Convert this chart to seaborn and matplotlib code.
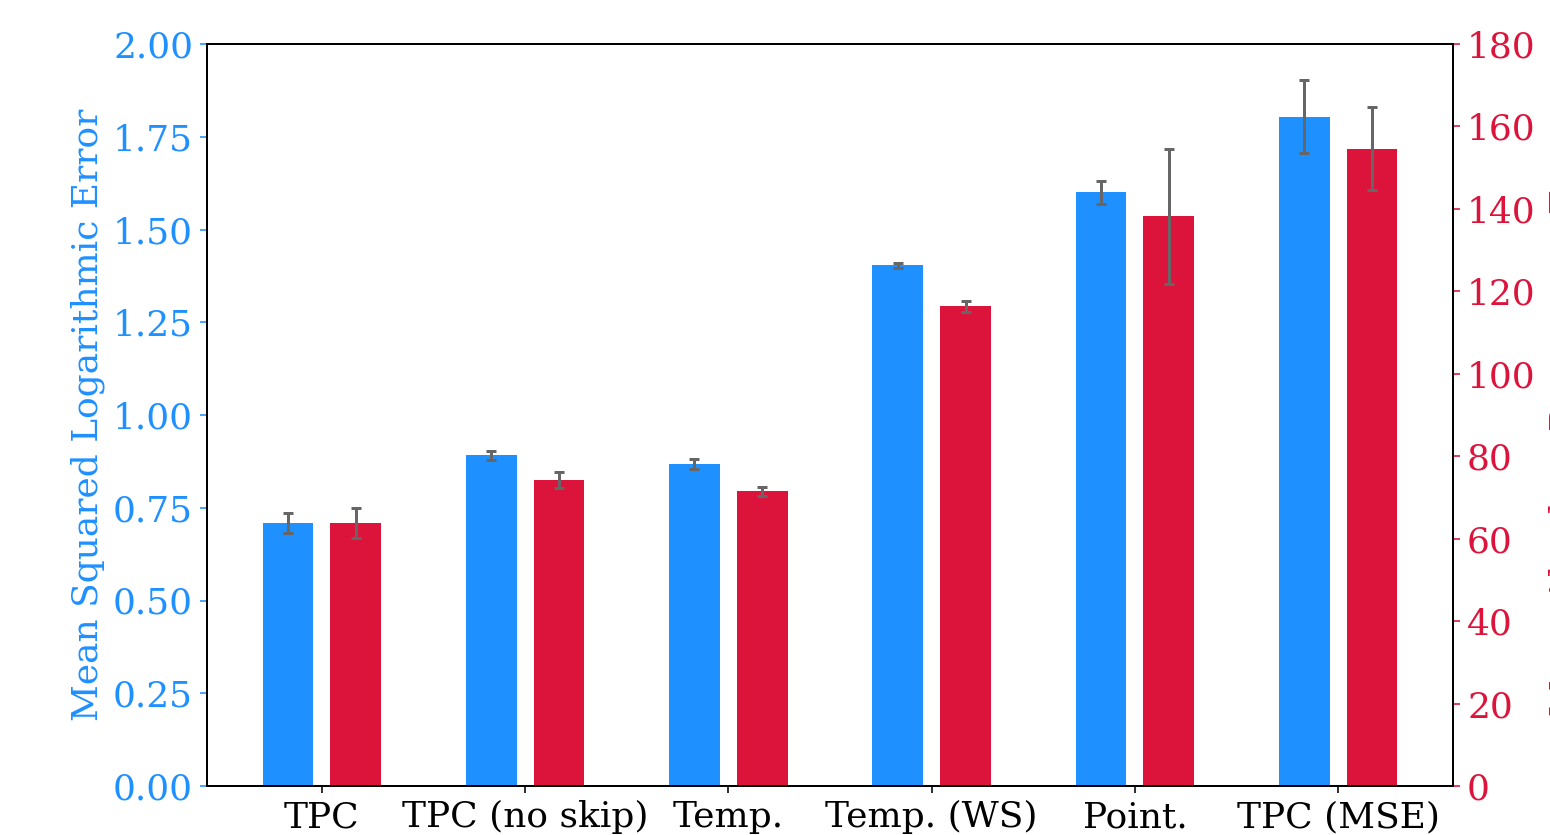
import matplotlib
matplotlib.use("Agg")
import matplotlib.pyplot as plt
import numpy as np
import pandas as pd
import seaborn as sns

# ---- data ----
models = ["TPC", "TPC (no skip)", "Temp.", "Temp. (WS)", "Point.", "TPC (MSE)"]
metrics = ["MSLE", "MAPE"]
msle = [0.709, 0.891, 0.868, 1.403, 1.601, 1.804]
msle_err = [0.028, 0.012, 0.013, 0.008, 0.031, 0.098]
mape = [63.8, 74.2, 71.5, 116.4, 138.2, 154.6]
mape_err = [3.7, 1.9, 1.1, 1.3, 16.4, 10.1]
colors = ["#1E90FF", "#DC143C"]
left_label = "Mean Squared Logarithmic Error"
right_label = "Mean Absolute Percentage Error"

plt.rcParams["font.family"] = ["DejaVu Serif"]
plt.rcParams["font.size"] = 18
plt.rcParams["axes.linewidth"] = 1.0

df = pd.DataFrame({
    "model": models * 2,
    "metric": [metrics[0]] * len(models) + [metrics[1]] * len(models),
    "value": msle + mape,
})

DPI = 144
fig, ax1 = plt.subplots(figsize=(1550 / DPI, 835 / DPI), dpi=DPI)
fig.subplots_adjust(left=207 / 1550, right=1453 / 1550, top=1 - 44 / 835, bottom=1 - 786 / 835)
ax2 = ax1.twinx()

for ax, metric, vals, errs in [
    (ax1, metrics[0], msle, msle_err),
    (ax2, metrics[1], mape, mape_err),
]:
    sub = df[df["metric"] == metric]
    sns.barplot(data=sub, x="model", y="value", hue="metric", hue_order=metrics,
                order=models, palette=colors, width=2 / 3, gap=0.25, dodge=True,
                saturation=1, errorbar=None, legend=False, linewidth=0, ax=ax)
    bars = sorted([p for p in ax.patches if p.get_height() > 0], key=lambda p: p.get_x())
    xs = [p.get_x() + p.get_width() / 2 for p in bars]
    ax.errorbar(xs, vals, yerr=errs, fmt="none", ecolor="#666666",
                elinewidth=1.5, capsize=2.5, capthick=1.5, zorder=5)

ax1.set_ylim(0, 2.0)
ax2.set_ylim(0, 180)
ax1.set_yticks(np.arange(0, 2.01, 0.25))
ax2.set_yticks(np.arange(0, 181, 20))
ax1.set_xlim(-0.565, len(models) - 1 + 0.565)

ax1.set_xlabel("")
ax2.set_xlabel("")
ax1.set_ylabel(left_label, color=colors[0], fontsize=18)
ax2.set_ylabel(right_label, color=colors[1], fontsize=18, labelpad=6.5)

ax1.tick_params(axis="y", colors=colors[0], labelsize=18)
ax2.tick_params(axis="y", colors=colors[1], labelsize=18)
ax1.tick_params(axis="x", colors="black", labelsize=18)

for ax in (ax1, ax2):
    for s in ax.spines.values():
        s.set_visible(True)
        s.set_color("black")

fig.savefig("out.png", dpi=DPI)
